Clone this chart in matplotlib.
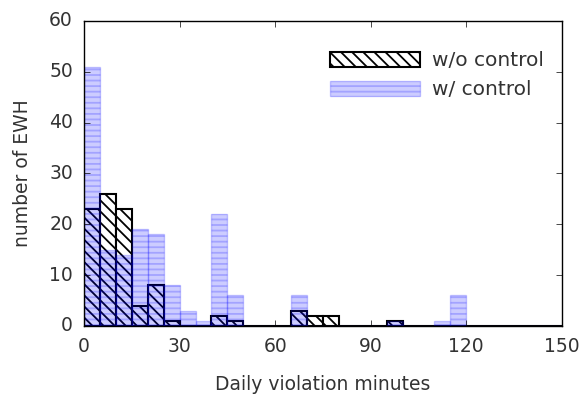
import numpy as np
import matplotlib
matplotlib.use('Agg')
import matplotlib.pyplot as plt
plt.style.use('classic')
plt.rcParams['hatch.linewidth'] = 1.3

# 5-minute bins from 0 to 150
bin_edges = np.arange(0, 150, 5)
# counts per bin, without / with control
wo_control = [23, 26, 23, 4, 8, 1, 0, 0, 2, 1, 0, 0, 0, 3, 2, 2, 0, 0, 0, 1,
              0, 0, 0, 0, 0, 0, 0, 0, 0, 0]
w_control = [51, 15, 14, 19, 18, 8, 3, 1, 22, 6, 0, 0, 0, 6, 0, 0, 0, 0, 0, 1,
             0, 0, 1, 6, 0, 0, 0, 0, 0, 0]

fig = plt.figure(figsize=(5.84, 3.95), dpi=100, facecolor='white')
ax = fig.add_axes([0.144, 0.175, 0.818, 0.772])

ax.bar(bin_edges, wo_control, width=5, align='edge', facecolor='white',
       edgecolor='black', hatch='\\\\\\', linewidth=1.5, label='w/o control')
ax.bar(bin_edges, w_control, width=5, align='edge', color='b', edgecolor='b',
       alpha=0.2, hatch='---', linewidth=1.0, label='w/ control')

ax.set_xlim(0, 150)
ax.set_ylim(0, 60)
ax.set_xticks([0, 30, 60, 90, 120, 150])
ax.set_yticks([0, 10, 20, 30, 40, 50, 60])
ax.set_xlabel('Daily violation minutes', fontsize=13.5, color='#333333',
              labelpad=14)
ax.set_ylabel('number of EWH', fontsize=13.5, color='#333333', labelpad=12)
ax.tick_params(labelsize=13.5, labelcolor='#333333', pad=8)

leg = ax.legend(loc='upper right', bbox_to_anchor=(0.963, 0.9), frameon=False,
                fontsize=14.5, handlelength=4.5, handleheight=0.8,
                handletextpad=0.6, labelspacing=0.5, borderpad=0,
                borderaxespad=0)
for t in leg.get_texts():
    t.set_color('#333333')

fig.savefig('out.png', dpi=100, facecolor='white')
